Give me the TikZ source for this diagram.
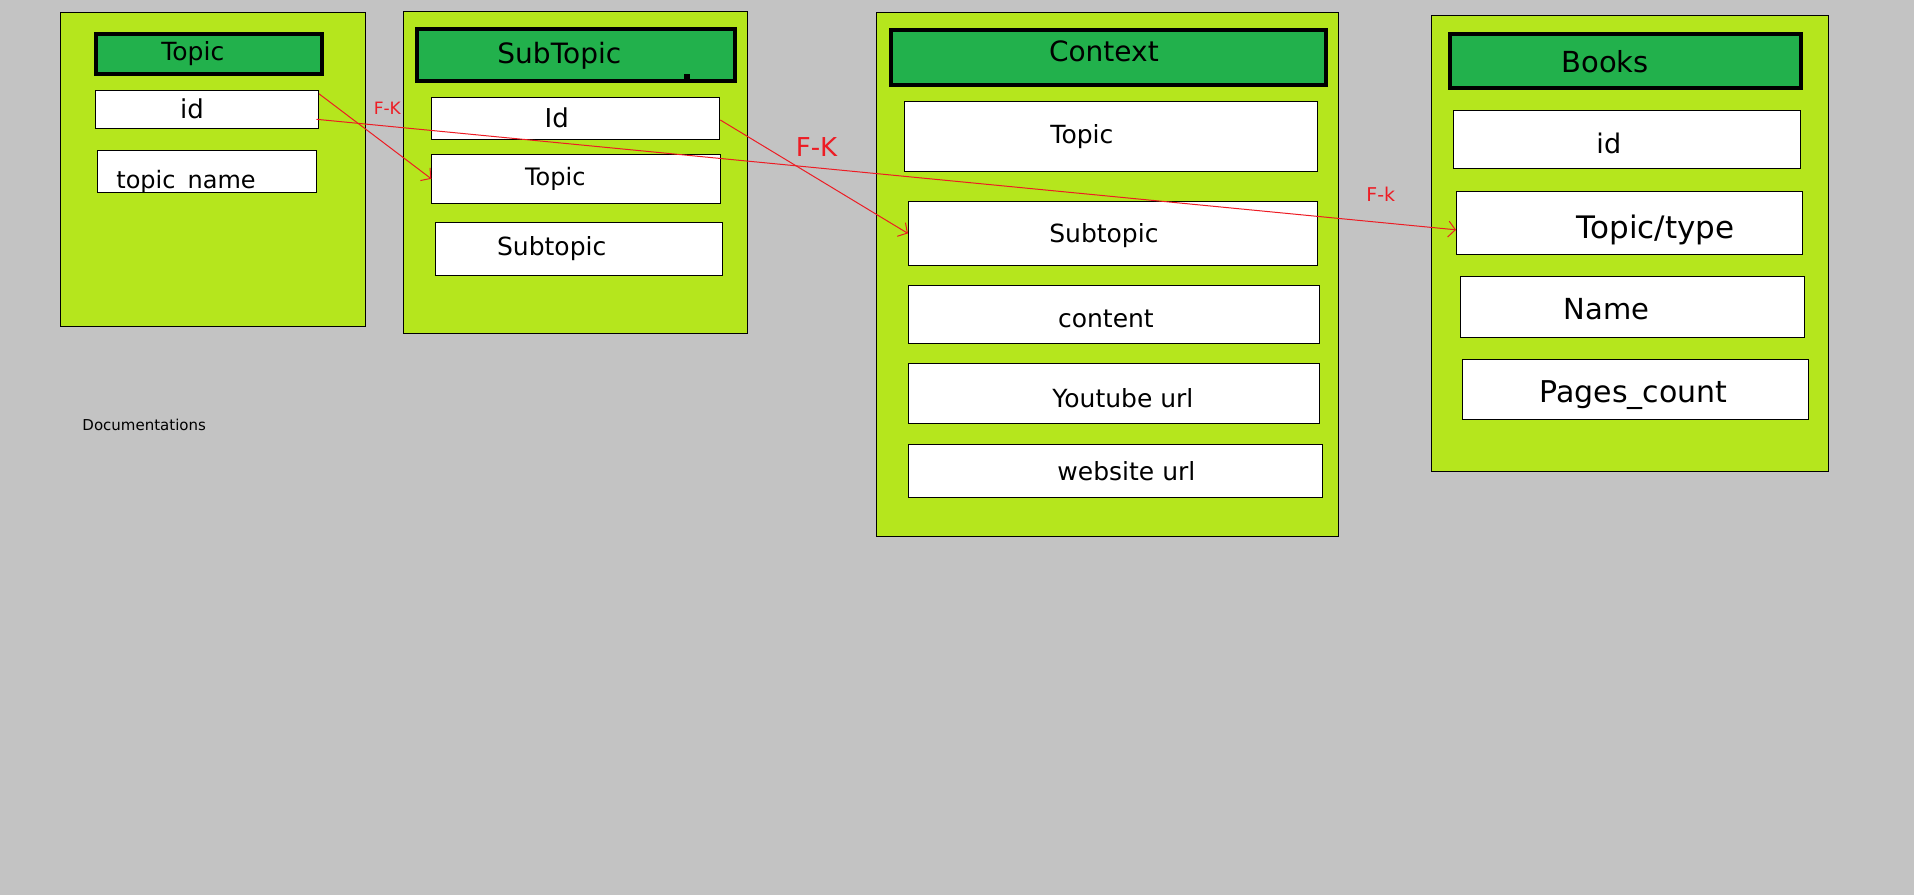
\documentclass[tikz,border=0pt]{standalone}
\usepackage{fontspec}
\setmainfont{DejaVu Sans}
\usetikzlibrary{arrows.meta}
\definecolor{paintgray}{HTML}{C3C3C3}
\definecolor{tbllime}{HTML}{B5E61D}
\definecolor{hdrgreen}{HTML}{22B14C}
\definecolor{fkred}{HTML}{ED1C24}
\tikzset{
  fs/.style={font=\fontsize{#1}{#1}\selectfont},
  tbl/.style={rectangle, draw=black, fill=tbllime, line width=1pt, inner sep=0pt},
  hdr/.style={rectangle, draw=black, fill=hdrgreen, line width=4pt, inner sep=0pt},
  field/.style={rectangle, draw=black, fill=white, line width=1pt, inner sep=0pt},
  txt/.style={inner sep=0pt},
  fkarr/.style={-{Straight Barb[length=7pt,width=16pt]}, draw=fkred, line width=1pt},
  fklbl/.style={text=fkred, inner sep=0pt},
}

\begin{document}
\begin{tikzpicture}[x=1pt, y=-1pt]
  \fill[paintgray] (0,0) rectangle (1914,895);
  \useasboundingbox (0,0) rectangle (1914,895);
  % Topic table
  \node[tbl, minimum width=305pt, minimum height=314pt] (tTbl) at (212.7,169.3) {};
  \node[hdr, minimum width=226pt, minimum height=40pt] (tHead) at (208.8,53.7) {};
  \node[field, minimum width=223pt, minimum height=38pt] (tId) at (207,109.3) {};
  \node[field, minimum width=219pt, minimum height=42pt] (tName) at (206.8,171.3) {};
  \node[txt, fs=25] (tHeadTxt) at ([xshift=-16pt]tHead.center) {Topic};
  \node[txt, fs=26] (tIdTxt) at ([xshift=-15pt]tId.center) {id};
  \begin{scope}
    \clip (tName.south west) rectangle (tName.north east);
    \node[txt, fs=24, anchor=base] (tNameTxt) at (186,188.5) {topic\_name};
  \end{scope}
  % SubTopic table
  \node[tbl, minimum width=344pt, minimum height=322pt] (stTbl) at (575.9,172.9) {};
  \node[hdr, minimum width=318pt, minimum height=52pt] (stHead) at (576.3,55.3) {};
  \node[fill=black, minimum size=6pt, inner sep=0pt] (stDot) at (687,77) {};
  \node[field, minimum width=288pt, minimum height=42pt] (stId) at (575.8,118) {};
  \node[field, minimum width=289pt, minimum height=49pt] (stTopic) at (576.3,178.8) {};
  \node[field, minimum width=287pt, minimum height=53pt] (stSub) at (578.7,248.8) {};
  \node[txt, fs=28] (stHeadTxt) at ([xshift=-17pt]stHead.center) {SubTopic};
  \node[txt, fs=26] (stIdTxt) at ([xshift=-19pt]stId.center) {Id};
  \node[txt, fs=24] (stTopicTxt) at ([xshift=-21pt]stTopic.center) {Topic};
  \node[txt, fs=25] (stSubTxt) at ([xshift=-27pt]stSub.center) {Subtopic};
  % Context table
  \node[tbl, minimum width=462pt, minimum height=524pt] (cTbl) at (1107.8,274.1) {};
  \node[hdr, minimum width=435pt, minimum height=55pt] (cHead) at (1108.9,57.7) {};
  \node[field, minimum width=413pt, minimum height=70pt] (cTopic) at (1110.9,136.4) {};
  \node[field, minimum width=409pt, minimum height=64pt] (cSub) at (1112.9,233.4) {};
  \node[field, minimum width=411pt, minimum height=58pt] (cContent) at (1113.9,314.6) {};
  \node[field, minimum width=411pt, minimum height=60pt] (cYoutube) at (1113.9,393.5) {};
  \node[field, minimum width=414pt, minimum height=53pt] (cWeb) at (1115.4,470.9) {};
  \node[txt, fs=28] (cHeadTxt) at ([shift={(-5pt,6pt)}]cHead.center) {Context};
  \node[txt, fs=25] (cTopicTxt) at ([xshift=-29pt]cTopic.center) {Topic};
  \node[txt, fs=25] (cSubTxt) at ([shift={(-9pt,-2.5pt)}]cSub.center) {Subtopic};
  \node[txt, fs=25] (cContentTxt) at ([shift={(-8pt,-4pt)}]cContent.center) {content};
  \node[txt, fs=25] (cYoutubeTxt) at ([shift={(9pt,-4.5pt)}]cYoutube.center) {Youtube url};
  \node[txt, fs=25] (cWebTxt) at ([xshift=11pt]cWeb.center) {website url};
  % Books table
  \node[tbl, minimum width=397pt, minimum height=456pt] (bTbl) at (1629.8,243.3) {};
  \node[hdr, minimum width=351pt, minimum height=54pt] (bHead) at (1625.2,61.3) {};
  \node[field, minimum width=347pt, minimum height=58pt] (bId) at (1626.8,139.3) {};
  \node[field, minimum width=346pt, minimum height=63pt] (bTopic) at (1629.5,222.8) {};
  \node[field, minimum width=344pt, minimum height=61pt] (bName) at (1632.3,306.8) {};
  \node[field, minimum width=346pt, minimum height=60pt] (bPages) at (1635.5,389.3) {};
  \node[txt, fs=29] (bHeadTxt) at ([xshift=-20pt]bHead.center) {Books};
  \node[txt, fs=27] (bIdTxt) at ([shift={(-18pt,-4pt)}]bId.center) {id};
  \node[txt, fs=31] (bTopicTxt) at ([shift={(26pt,-7pt)}]bTopic.center) {Topic/type};
  \node[txt, fs=29] (bNameTxt) at ([shift={(-26pt,-2pt)}]bName.center) {Name};
  \node[txt, fs=30] (bPagesTxt) at ([shift={(-2pt,-6pt)}]bPages.center) {Pages\_count};
  % notes
  \node[txt, fs=15] (docs) at (144.2,425) {Documentations};
  % foreign keys
  \draw[fkarr] ([yshift=-4pt]tId.north east) -- (stTopic.west);
  \draw[fkarr] ([shift={(-2.5pt,-10pt)}]tId.east) -- ([yshift=-7pt]bTopic.west);
  \draw[fkarr] ([yshift=-2pt]stId.east) -- (cSub.west);
  \node[fklbl, fs=17] (fkOne) at (387.3,108.2) {F-K};
  \node[fklbl, fs=26] (fkTwo) at (816.5,147) {F-K};
  \node[fklbl, fs=19] (fkThree) at (1380.8,193.8) {F-k};
\end{tikzpicture}
\end{document}
